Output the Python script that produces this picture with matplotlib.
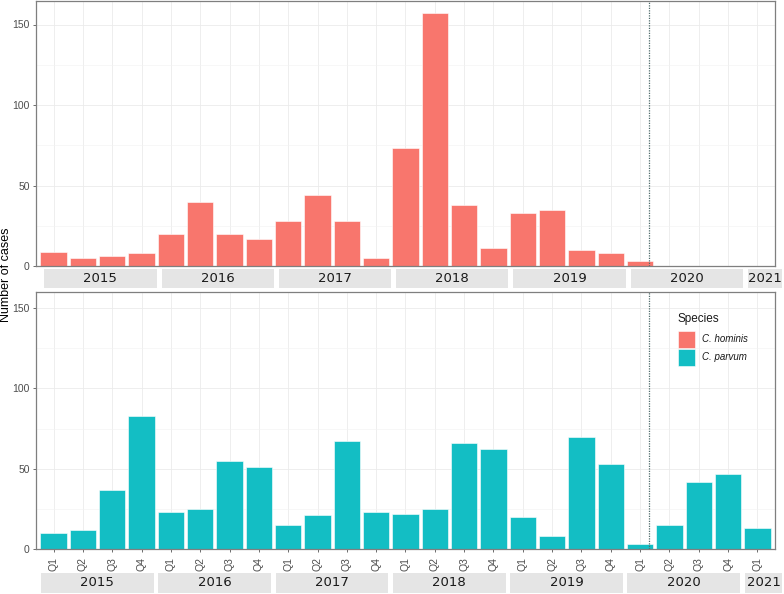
import matplotlib
matplotlib.use('Agg')
import matplotlib.pyplot as plt
import matplotlib.transforms as mtransforms
from matplotlib.patches import Rectangle
import numpy as np

years = ['2015', '2016', '2017', '2018', '2019', '2020', '2021']
quarters_per_year = [4, 4, 4, 4, 4, 4, 1]
quarter_labels = ['Q1', 'Q2', 'Q3', 'Q4'] * 6 + ['Q1']

# cases per quarter, 2015 Q1 onwards
hominis = [9, 5, 6, 8, 20, 40, 20, 17, 28, 44, 28, 5, 73, 157, 38, 11, 33, 35, 10, 8, 3]
parvum = [10, 12, 37, 83, 23, 25, 55, 51, 15, 21, 67, 23, 22, 25, 66, 62, 20, 8, 70, 53,
          3, 15, 42, 47, 13]
species = ['C. hominis', 'C. parvum']
line_pos = 20.3  # marker line, late Q1 2020

col_hom = '#F8766D'
col_par = '#13BEC4'

W, H = 784, 594
fig = plt.figure(figsize=(W / 100, H / 100), dpi=100)


def px_axes(l, t, r, b):
    return fig.add_axes([l / W, 1 - b / H, (r - l) / W, (b - t) / H])


ax1 = px_axes(36, 1, 775, 266)
ax2 = px_axes(36, 291.7, 775, 549.3)
n = len(quarter_labels)
x_all = np.arange(n)

ax1.bar(np.arange(len(hominis)), hominis, width=0.9, color=col_hom,
        edgecolor='white', linewidth=0.4, zorder=2)
ax2.bar(np.arange(len(parvum)), parvum, width=0.9, color=col_par,
        edgecolor='white', linewidth=0.4, zorder=2)

ax1.set_ylim(0, 265 / 1.61)
ax2.set_ylim(0, 257.6 / 1.61)

for ax in (ax1, ax2):
    ax.set_xlim(-0.6, n - 0.4)
    ax.set_xticks(x_all)
    ax.set_yticks([0, 50, 100, 150])
    ax.set_yticks([25, 75, 125], minor=True)
    ax.grid(which='major', color='#EBEBEB', lw=0.6, zorder=0)
    ax.grid(which='minor', axis='y', color='#F2F2F2', lw=0.4, zorder=0)
    ax.set_axisbelow(True)
    for s in ax.spines.values():
        s.set_color('#7F7F7F')
        s.set_linewidth(0.9)
    ax.tick_params(axis='y', which='major', length=2.5, width=0.6, color='#555555',
                   labelsize=7.5, labelcolor='#4D4D4D', pad=2)
    ax.tick_params(axis='y', which='minor', length=0)
    for lab in ax.get_yticklabels():
        lab.set_family('Liberation Sans')
    ax.axvline(line_pos, color='#4F6B6B', lw=0.9, linestyle=(0, (1, 1)), zorder=3)

ax1.tick_params(axis='x', length=0, labelbottom=False)
ax2.set_xticklabels(quarter_labels, rotation=90, family='Liberation Sans')
ax2.tick_params(axis='x', length=2.5, width=0.6, color='#555555',
                labelsize=7.5, labelcolor='#4D4D4D', pad=3)


def year_strips(ax, y0, y1, off0, off1):
    trans = mtransforms.blended_transform_factory(ax.transData, ax.transAxes)
    start = 0
    for yr, nq in zip(years, quarters_per_year):
        a = start - 0.5 + off0
        b = start + nq - 0.5 + off1
        if nq == 1:
            b = start + 0.85
        ax.add_patch(Rectangle((a, y1), b - a, y0 - y1, transform=trans,
                               facecolor='#E5E5E5', edgecolor='none', clip_on=False))
        ax.text((a + b) / 2, (y0 + y1) / 2, yr, transform=trans, ha='center',
                va='center', fontsize=9.5, color='#1A1A1A', family='DejaVu Sans')
        start += nq


year_strips(ax1, -3 / 265, -22 / 265, 0.18, 0.01)
year_strips(ax2, -24 / 257.6, -43.4 / 257.6, 0.07, -0.08)

fig.text(6 / W, 1 - 275 / H, 'Number of cases', rotation=90, ha='center',
         va='center', fontsize=9, family='Liberation Sans')

# legend, drawn by hand in figure pixels
fig.text(678 / W, 1 - 319 / H, 'Species', ha='left', va='center', fontsize=8.5,
         family='Liberation Sans', color='#1A1A1A')
for i, (name, col) in enumerate(zip(species, [col_hom, col_par])):
    top = 331 + i * 18
    fig.patches.append(Rectangle((678 / W, 1 - (top + 17) / H), 17 / W, 17 / H,
                                 transform=fig.transFigure, facecolor=col,
                                 edgecolor='white', linewidth=0.4))
    fig.text(702 / W, 1 - (top + 8.5) / H, name, ha='left', va='center', fontsize=7,
             style='italic', family='Liberation Sans', color='#1A1A1A')

fig.savefig('out.png', dpi=100)
